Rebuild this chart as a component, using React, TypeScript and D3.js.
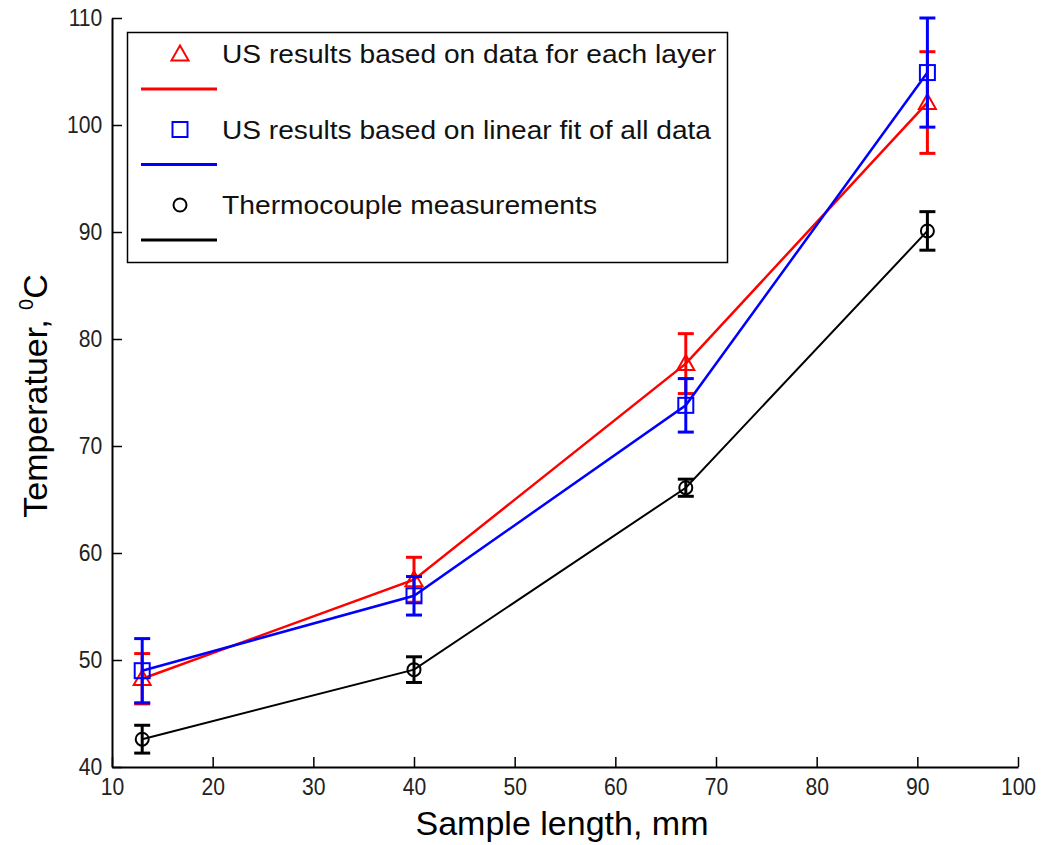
import React, { useEffect, useRef } from "react";
import * as d3 from "d3";

const xValues = [13, 40, 67, 91];
const usLayer = [48.25, 57.5, 77.7, 102.1];
const usLayerErr = [2.35, 2.1, 2.8, 4.75];
const usFit = [49.0, 56.0, 73.8, 104.9];
const usFitErr = [3.0, 1.8, 2.5, 5.1];
const thermo = [42.6, 49.1, 66.1, 90.1];
const thermoErr = [1.3, 1.2, 0.8, 1.8];

const xTicks = [10, 20, 30, 40, 50, 60, 70, 80, 90, 100];
const yTicks = [40, 50, 60, 70, 80, 90, 100, 110];

const legendLabels = [
  "US results based on data for each layer",
  "US results based on linear fit of all data",
  "Thermocouple measurements",
];

const W = 1042;
const H = 845;
const FONT = "'Liberation Sans', Arial, Helvetica, sans-serif";

export default function App() {
  const ref = useRef<SVGSVGElement | null>(null);

  useEffect(() => {
    const svg = d3.select(ref.current);
    svg.selectAll("*").remove();

    const x = d3.scaleLinear().domain([10, 100]).range([112, 1018]);
    const y = d3.scaleLinear().domain([40, 110]).range([767, 18]);

    // axes
    const xAxis = svg
      .append("g")
      .attr("transform", `translate(0,${y(40)})`)
      .call(
        d3
          .axisBottom(x)
          .tickValues(xTicks)
          .tickSizeInner(-10)
          .tickSizeOuter(0)
          .tickPadding(11)
          .tickFormat(d3.format("d"))
      );
    xAxis.select(".domain").attr("stroke", "#000").attr("stroke-width", 2);
    xAxis.selectAll(".tick line").attr("stroke", "#000").attr("stroke-width", 1.5);
    xAxis
      .selectAll(".tick text")
      .attr("font-family", FONT)
      .attr("font-size", 24)
      .attr("fill", "#222")
      .attr("transform", "scale(0.88,1)");

    const yAxis = svg
      .append("g")
      .attr("transform", `translate(${x(10)},0)`)
      .call(
        d3
          .axisLeft(y)
          .tickValues(yTicks)
          .tickSizeInner(-10)
          .tickSizeOuter(0)
          .tickPadding(11)
          .tickFormat(d3.format("d"))
      );
    yAxis.select(".domain").attr("stroke", "#000").attr("stroke-width", 2);
    yAxis.selectAll(".tick line").attr("stroke", "#000").attr("stroke-width", 1.5);
    yAxis
      .selectAll(".tick text")
      .attr("font-family", FONT)
      .attr("font-size", 24)
      .attr("fill", "#222")
      .attr("transform", "scale(0.88,1)");

    // titles
    svg
      .append("text")
      .attr("x", 562)
      .attr("y", 835)
      .attr("text-anchor", "middle")
      .attr("font-family", FONT)
      .attr("font-size", 33)
      .attr("textLength", 293)
      .attr("lengthAdjust", "spacingAndGlyphs")
      .text("Sample length, mm");

    const yt = svg
      .append("text")
      .attr("transform", "translate(47,396) rotate(-90)")
      .attr("text-anchor", "middle")
      .attr("font-family", FONT)
      .attr("font-size", 34);
    yt.append("tspan").text("Temperatuer, ");
    yt.append("tspan").attr("font-size", 20).attr("dy", -14).text("0");
    yt.append("tspan").attr("dy", 14).text("C");

    const series = [
      { vals: usLayer, err: usLayerErr, color: "#ff0000", marker: "tri", lw: 2.5 },
      { vals: usFit, err: usFitErr, color: "#0000ff", marker: "sq", lw: 2.5 },
      { vals: thermo, err: thermoErr, color: "#000000", marker: "circ", lw: 2 },
    ];

    const drawMarker = (g: any, type: string, cx: number, cy: number, color: string) => {
      if (type === "tri") {
        const s = 8.5;
        g.append("path")
          .attr("d", `M${cx},${cy - s} L${cx + s},${cy + s * 0.75} L${cx - s},${cy + s * 0.75} Z`)
          .attr("fill", "none")
          .attr("stroke", color)
          .attr("stroke-width", 2);
      } else if (type === "sq") {
        const s = 7.5;
        g.append("rect")
          .attr("x", cx - s)
          .attr("y", cy - s)
          .attr("width", 2 * s)
          .attr("height", 2 * s)
          .attr("fill", "none")
          .attr("stroke", color)
          .attr("stroke-width", 2);
      } else {
        g.append("circle")
          .attr("cx", cx)
          .attr("cy", cy)
          .attr("r", 6.5)
          .attr("fill", "none")
          .attr("stroke", color)
          .attr("stroke-width", 2);
      }
    };

    const line = d3
      .line<number>()
      .x((_, i) => x(xValues[i]))
      .y((d) => y(d));

    series.forEach((s) => {
      const g = svg.append("g");
      s.vals.forEach((v, i) => {
        const cx = x(xValues[i]);
        const ytop = y(v + s.err[i]);
        const ybot = y(v - s.err[i]);
        g.append("line").attr("x1", cx).attr("x2", cx).attr("y1", ytop).attr("y2", ybot)
          .attr("stroke", s.color).attr("stroke-width", 3);
        [ytop, ybot].forEach((yy) =>
          g.append("line").attr("x1", cx - 8).attr("x2", cx + 8).attr("y1", yy).attr("y2", yy)
            .attr("stroke", s.color).attr("stroke-width", 3)
        );
        drawMarker(g, s.marker, cx, y(v), s.color);
      });
      g.append("path")
        .attr("d", line(s.vals) as string)
        .attr("fill", "none")
        .attr("stroke", s.color)
        .attr("stroke-width", s.lw);
    });

    // legend
    const lg = svg.append("g");
    lg.append("rect")
      .attr("x", 127.5)
      .attr("y", 32.5)
      .attr("width", 600)
      .attr("height", 230)
      .attr("fill", "#fff")
      .attr("stroke", "#000")
      .attr("stroke-width", 1.5);
    const textLens = [494, 489, 375];
    series.forEach((s, i) => {
      const my = 54 + i * 75.5;
      const ly = 89 + i * 75.5;
      drawMarker(lg, s.marker, 180, my, s.color);
      lg.append("text")
        .attr("x", 222)
        .attr("y", my + 9)
        .attr("font-family", FONT)
        .attr("font-size", 25)
        .attr("fill", "#111")
        .attr("textLength", textLens[i])
        .attr("lengthAdjust", "spacingAndGlyphs")
        .text(legendLabels[i]);
      lg.append("line")
        .attr("x1", 141)
        .attr("x2", 217)
        .attr("y1", ly)
        .attr("y2", ly)
        .attr("stroke", s.color)
        .attr("stroke-width", 3);
    });
  }, []);

  return (
    <svg
      ref={ref}
      width={W}
      height={H}
      style={{ position: "fixed", left: 0, top: 0, background: "#fff" }}
    />
  );
}
